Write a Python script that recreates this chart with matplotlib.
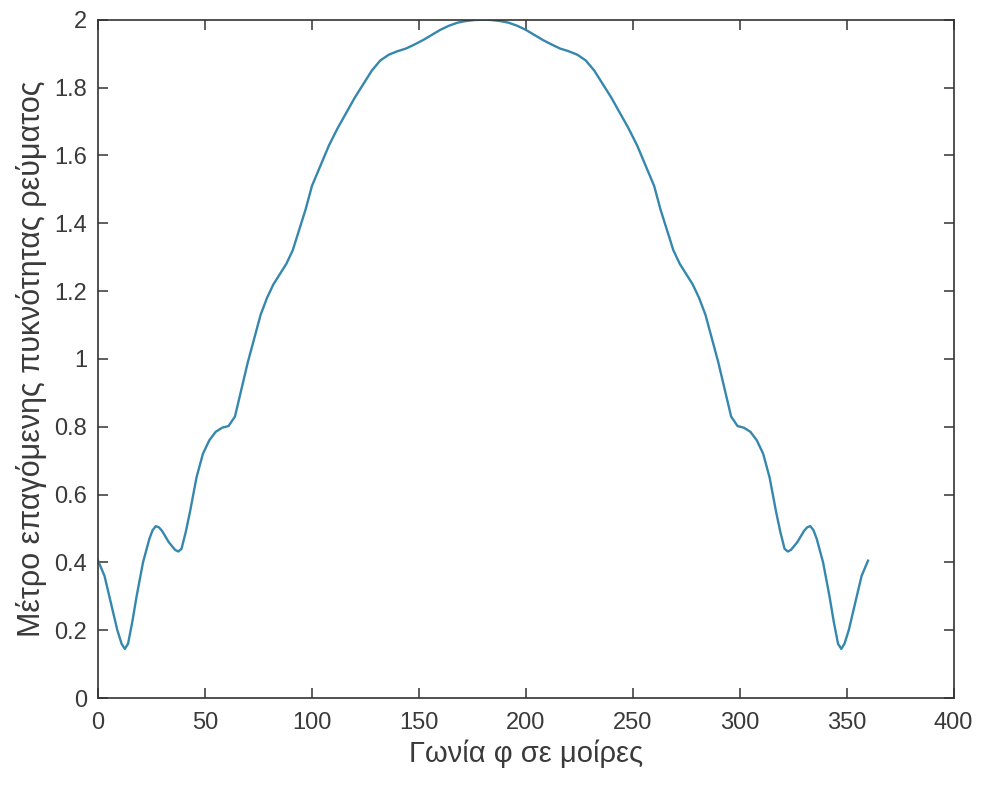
import numpy as np
import matplotlib.pyplot as plt

plt.rcParams['font.family'] = ['Liberation Sans', 'DejaVu Sans']

# angle in degrees and magnitude
angle = [0, 3, 6, 9, 11, 12.5, 14, 16, 18, 21, 24, 25.5, 27, 28.5, 30, 33, 36, 37.5,
         39, 41, 43, 46, 49, 52, 55, 58, 61, 64, 67, 70, 73, 76, 79, 82, 85, 88, 91,
         94, 97, 100, 104, 108, 112, 116, 120, 124, 128, 132, 136, 140, 144, 148, 152,
         156, 160, 164, 168, 172, 176, 180,
         184, 188, 192, 196, 200, 204, 208, 212, 216, 220, 224, 228, 232, 236, 240,
         244, 248, 252, 256, 260, 263, 266, 269, 272, 275, 278, 281, 284, 287, 290,
         293, 296, 299, 302, 305, 308, 311, 314, 317, 319, 321, 322.5, 324, 327, 330,
         331.5, 333, 334.5, 336, 339, 342, 344, 346, 347.5, 349, 351, 354, 357, 360]
magnitude = [0.405, 0.36, 0.28, 0.2, 0.16, 0.145, 0.16, 0.225, 0.30, 0.40, 0.47,
             0.495, 0.507, 0.503, 0.492, 0.46, 0.437, 0.432, 0.44, 0.49, 0.55, 0.65,
             0.72, 0.76, 0.785, 0.797, 0.802, 0.83, 0.91, 0.99, 1.06, 1.13, 1.18,
             1.22, 1.25, 1.28, 1.32, 1.38, 1.44, 1.51, 1.57, 1.63, 1.68, 1.725, 1.77,
             1.81, 1.85, 1.88, 1.897, 1.907, 1.915, 1.927, 1.94, 1.955, 1.97, 1.982,
             1.991, 1.996, 1.999, 2.0,
             1.999, 1.996, 1.991, 1.982, 1.97, 1.955, 1.94, 1.927, 1.915, 1.907, 1.897,
             1.88, 1.85, 1.81, 1.77, 1.725, 1.68, 1.63, 1.57, 1.51, 1.44, 1.38, 1.32,
             1.28, 1.25, 1.22, 1.18, 1.13, 1.06, 0.99, 0.91, 0.83, 0.802, 0.797, 0.785,
             0.76, 0.72, 0.65, 0.55, 0.49, 0.44, 0.432, 0.437, 0.46, 0.492, 0.503,
             0.507, 0.495, 0.47, 0.40, 0.30, 0.225, 0.16, 0.145, 0.16, 0.2, 0.28,
             0.36, 0.405]

xticks = [0, 50, 100, 150, 200, 250, 300, 350, 400]
yticks = [0, 0.2, 0.4, 0.6, 0.8, 1, 1.2, 1.4, 1.6, 1.8, 2]
ytick_labels = ['0', '0.2', '0.4', '0.6', '0.8', '1', '1.2', '1.4', '1.6', '1.8', '2']

fig = plt.figure(figsize=(9.81, 7.87), dpi=100)
ax = fig.add_axes([0.1, 0.113, 0.872, 0.862])

ax.plot(angle, magnitude, color='#3587ad', linewidth=1.7)

ax.set_xlim(0, 400)
ax.set_ylim(0, 2)
ax.set_xticks(xticks)
ax.set_yticks(yticks)
ax.set_yticklabels(ytick_labels)

txt = '#3a3a3a'
for s in ax.spines.values():
    s.set_color('#333333')
    s.set_linewidth(1.2)
ax.tick_params(direction='in', length=7, width=1.1, top=True, right=True,
               labelsize=17, colors='#333333', labelcolor=txt)
ax.tick_params(axis='x', pad=10)
ax.tick_params(axis='y', pad=8)

ax.set_xlabel('Γωνία φ σε μοίρες', fontsize=21, color=txt, labelpad=4)
ax.set_ylabel('Μέτρο επαγόμενης πυκνότητας ρεύματος', fontsize=22, color=txt,
              labelpad=5)

plt.savefig('out.png', dpi=100)
